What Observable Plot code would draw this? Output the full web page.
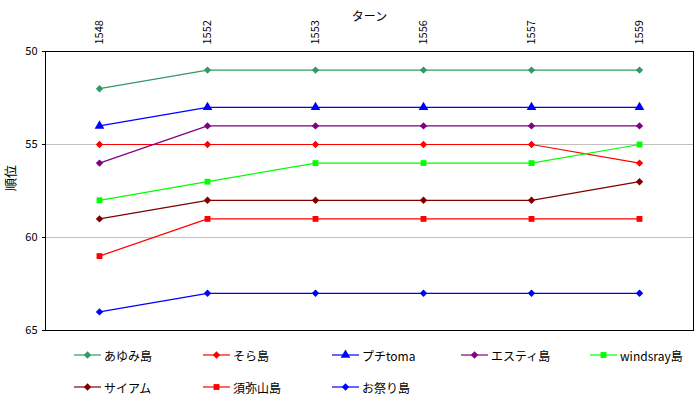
<!DOCTYPE html>
<html><head><meta charset="utf-8">
<script src="https://cdn.jsdelivr.net/npm/d3@7"></script>
<script src="https://cdn.jsdelivr.net/npm/@observablehq/plot@0.6"></script>
<style>
body{margin:0;background:#fff;font-family:"Noto Sans CJK JP","Noto Sans",sans-serif;}
#wrap{position:relative;width:700px;height:400px;overflow:hidden;}
.leg{position:absolute;display:flex;align-items:center;font-size:12px;height:16px;color:#000;white-space:nowrap;}
.leg svg{margin-right:3px;}
</style></head><body><div id="wrap"><div id="chart"></div></div>
<script>
const turns = ["1548","1552","1553","1556","1557","1559"];
const names = ["あゆみ島","そら島","プチtoma","エスティ島","windsray島","サイアム","須弥山島","お祭り島"];
const colors = ["#339966","#ff0000","#0000ff","#800080","#00ff00","#800000","#ff0000","#0000ff"];
const symbols = ["diamond","diamond","triangle","diamond","square","diamond","square","diamond"];
const ayumi    = [52,51,51,51,51,51];
const sora     = [55,55,55,55,55,56];
const petit    = [54,53,53,53,53,53];
const esty     = [56,54,54,54,54,54];
const windsray = [58,57,56,56,56,55];
const siam     = [59,58,58,58,58,57];
const shumisen = [61,59,59,59,59,59];
const omatsuri = [64,63,63,63,63,63];
const yTicks = [50,55,60,65];
const gridValues = [55,60];
const series = [ayumi,sora,petit,esty,windsray,siam,shumisen,omatsuri];

// rotated-square diamond like the reference
const diamondSym = {draw(ctx, size){const s = Math.sqrt(size/Math.PI); ctx.moveTo(0,-s); ctx.lineTo(s,0); ctx.lineTo(0,s); ctx.lineTo(-s,0); ctx.closePath();}};
const symObj = {diamond: diamondSym, square: "square", triangle: "triangle"};
const radius = {diamond:3.7, square:3.3, triangle:3.6};
const marks = [
  Plot.ruleY(gridValues, {stroke:"#c0c0c0", strokeWidth:1}),
  Plot.frame({stroke:"#000", strokeWidth:1})
];
series.forEach((vals,i)=>{
  const d = vals.map((v,j)=>({turn:turns[j], rank:v}));
  marks.push(Plot.line(d, {x:"turn", y:"rank", stroke:colors[i], strokeWidth:1.2}));
  marks.push(Plot.dot(d, {x:"turn", y:"rank", symbol:symObj[symbols[i]], fill:colors[i], r:radius[symbols[i]]}));
});
marks.push(Plot.text(["ターン"], {frameAnchor:"top", dy:-39, fontSize:12}));
marks.push(Plot.text(["順位"], {frameAnchor:"left", dx:-35, rotate:-90, fontSize:13}));

const chart = Plot.plot({
  width:700, height:340,
  marginTop:51, marginLeft:45, marginRight:7, marginBottom:10,
  style:{fontSize:"11px", fontFamily:"'Noto Sans CJK JP','Noto Sans',sans-serif", background:"#fff", color:"#000"},
  x:{type:"point", domain:turns, padding:0.5, axis:"top", tickRotate:-90, tickSize:0, tickPadding:7, label:null},
  y:{domain:[50,65], reverse:true, ticks:yTicks, tickSize:3, tickPadding:5, label:null},
  marks
});
document.getElementById("chart").appendChild(chart);

// legend
const colX = [74,203,332,461,590];
const rowY = [355,387];
function symPathOf(name){
  const p = d3.path();
  if (name === "diamond") diamondSym.draw(p, Math.PI*3.7*3.7);
  else if (name === "square") d3.symbolSquare.draw(p, Math.PI*3.3*3.3);
  else d3.symbolTriangle.draw(p, Math.PI*3.6*3.6);
  return p.toString();
}
names.forEach((n,i)=>{
  const el = document.createElement("div");
  el.className = "leg";
  el.style.left = colX[i%5] + "px";
  el.style.top = (rowY[Math.floor(i/5)] - 8) + "px";
  el.innerHTML = `<svg width="27" height="12"><line x1="0" x2="27" y1="6" y2="6" stroke="${colors[i]}" stroke-width="1.2"/><path transform="translate(13.5,6)" d="${symPathOf(symbols[i])}" fill="${colors[i]}"/></svg><span>${n}</span>`;
  document.getElementById("wrap").appendChild(el);
});
</script></body></html>
